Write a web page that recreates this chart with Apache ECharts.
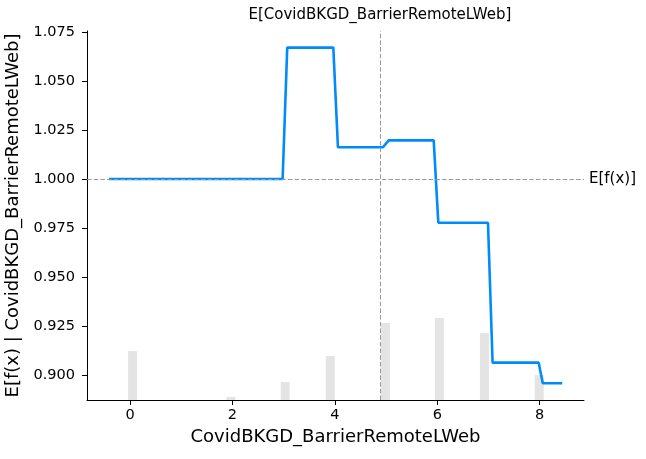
<!DOCTYPE html>
<html>
<head>
<meta charset="utf-8">
<script src="https://cdn.jsdelivr.net/npm/echarts@6/dist/echarts.min.js"></script>
<style>
  html, body { margin: 0; padding: 0; background: #fff; }
  #chart { width: 646px; height: 459px; }
</style>
</head>
<body>
<div id="chart"></div>
<script>
// partial dependence line (feature value -> E[f(x) | feature])
const lineX = [-0.41, 2.98, 3.07, 3.97, 4.06, 4.94, 5.05, 5.93, 6.02, 6.99, 7.08, 7.98, 8.06, 8.44]
const lineY = [1.0, 1.0, 1.067, 1.067, 1.0162, 1.0162, 1.0197, 1.0197, 0.9777, 0.9777, 0.9063, 0.9063, 0.8958, 0.8958]

// histogram of feature values (bar centre, bar top in y units)
const histX = [0.05, 1.97, 3.03, 3.91, 4.99, 6.04, 6.92, 7.99]
const histTop = [0.9122, 0.8888, 0.8964, 0.9097, 0.9265, 0.9291, 0.9214, 0.9]

// expected values
const expectedX = 4.885
const expectedY = 1.0

// tick labels
const xTicks = [0, 2, 4, 6, 8]
const yTicks = [0.9, 0.925, 0.95, 0.975, 1.0, 1.025, 1.05, 1.075]

const xMin = -0.84
const xMax = 8.865
const yMin = 0.88724
const yMax = 1.0755

const featureName = 'CovidBKGD_BarrierRemoteLWeb'
const font = 'DejaVu Sans'

// main plot area
const plot = { left: 87, right: 62, top: 31, bottom: 59 }
const W = 646
const H = 459
const xScale = (W - plot.left - plot.right) / (xMax - xMin)
const yScale = (H - plot.top - plot.bottom) / (yMax - yMin)

// helper grids that only carry tick marks: same pixel scale, but min/max on the
// tick values so ECharts' own interval ticks land on the labels
const xTickFirst = xTicks[0]
const xTickLast = xTicks[xTicks.length - 1]
const yTickFirst = yTicks[0]
const yTickLast = yTicks[yTicks.length - 1]

const xTickGrid = {
  left: plot.left + (xTickFirst - xMin) * xScale,
  right: plot.right + (xMax - xTickLast) * xScale,
  top: plot.top,
  bottom: plot.bottom,
  outerBoundsMode: 'none',
}
const yTickGrid = {
  left: plot.left,
  right: plot.right,
  top: plot.top + (yMax - yTickLast) * yScale,
  bottom: plot.bottom + (yTickFirst - yMin) * yScale,
  outerBoundsMode: 'none',
}

const tickStyle = { show: true, inside: false, length: 5, lineStyle: { color: '#000', width: 1 } }
const hiddenAxis = (gridIndex) => ({
  type: 'value',
  gridIndex,
  show: false,
  min: 0,
  max: 1,
})

const chart = echarts.init(document.getElementById('chart'))

chart.setOption({
  animation: false,
  grid: [
    { ...plot, outerBoundsMode: 'none' },
    xTickGrid,
    yTickGrid,
  ],
  xAxis: [
    {
      type: 'value',
      gridIndex: 0,
      min: xMin,
      max: xMax,
      name: featureName,
      nameLocation: 'middle',
      nameGap: 27,
      nameTextStyle: { fontFamily: font, fontSize: 18, color: '#000' },
      axisLine: { show: true, onZero: false, lineStyle: { color: '#000', width: 1 } },
      axisTick: { show: false },
      axisLabel: { fontFamily: font, fontSize: 14.5, color: '#000', margin: 8, customValues: xTicks },
      splitLine: { show: false },
    },
    {
      type: 'value',
      gridIndex: 1,
      min: xTickFirst,
      max: xTickLast,
      interval: xTicks[1] - xTicks[0],
      axisLine: { show: false, onZero: false },
      axisTick: tickStyle,
      axisLabel: { show: false },
      splitLine: { show: false },
    },
    hiddenAxis(2),
  ],
  yAxis: [
    {
      type: 'value',
      gridIndex: 0,
      min: yMin,
      max: yMax,
      name: 'E[f(x) | ' + featureName + ']',
      nameLocation: 'middle',
      nameRotate: 90,
      nameGap: 58,
      nameTextStyle: { fontFamily: font, fontSize: 18, color: '#000' },
      axisLine: { show: true, onZero: false, lineStyle: { color: '#000', width: 1 } },
      axisTick: { show: false },
      axisLabel: {
        fontFamily: font,
        fontSize: 14.5,
        color: '#000',
        margin: 12,
        customValues: yTicks,
        formatter: (v) => v.toFixed(3),
      },
      splitLine: { show: false },
    },
    hiddenAxis(1),
    {
      type: 'value',
      gridIndex: 2,
      min: yTickFirst,
      max: yTickLast,
      interval: 0.025,
      axisLine: { show: false, onZero: false },
      axisTick: tickStyle,
      axisLabel: { show: false },
      splitLine: { show: false },
    },
  ],
  series: [
    {
      name: 'hist',
      type: 'bar',
      xAxisIndex: 0,
      yAxisIndex: 0,
      barWidth: 9,
      clip: true,
      itemStyle: { color: '#e4e4e4' },
      data: histX.map((x, i) => [x, histTop[i]]),
      z: 1,
    },
    {
      // dashed reference lines for E[x] and E[f(x)]
      name: 'ref',
      type: 'line',
      xAxisIndex: 0,
      yAxisIndex: 0,
      data: [],
      z: 2,
      markLine: {
        silent: true,
        symbol: 'none',
        animation: false,
        lineStyle: { color: '#999', width: 1, type: [4.5, 2.2] },
        data: [
          {
            xAxis: expectedX,
            label: {
              show: true,
              position: 'end',
              distance: 8,
              formatter: 'E[' + featureName + ']',
              fontFamily: font,
              fontSize: 15,
              color: '#000',
            },
          },
          {
            yAxis: expectedY,
            label: {
              show: true,
              position: 'end',
              distance: 5,
              formatter: 'E[f(x)]',
              fontFamily: font,
              fontSize: 15,
              color: '#000',
            },
          },
        ],
      },
    },
    {
      name: 'pdp',
      type: 'line',
      xAxisIndex: 0,
      yAxisIndex: 0,
      showSymbol: false,
      lineStyle: { color: '#008bfb', width: 2.6 },
      data: lineX.map((x, i) => [x, lineY[i]]),
      z: 3,
    },
  ],
})
</script>
</body>
</html>
